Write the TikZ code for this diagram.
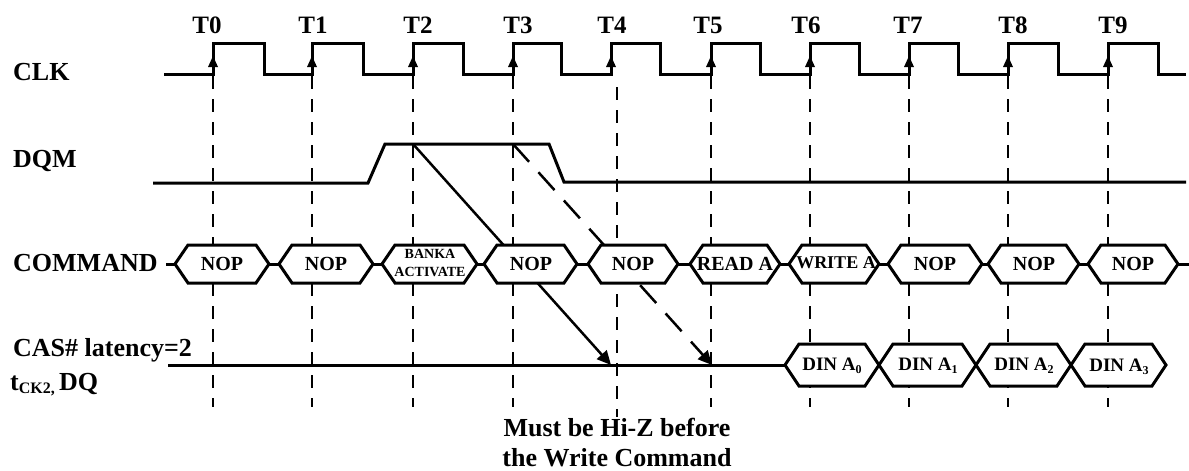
\documentclass[tikz,border=0pt]{standalone}
\usepackage{fontspec}
\setmainfont{Liberation Serif}
\usetikzlibrary{arrows.meta}
\tikzset{
  sig/.style={line width=3pt, line join=miter},
  gridline/.style={line width=1.8pt, dash pattern=on 13pt off 10pt},
  lbl/.style={font=\bfseries\fontsize{26}{28}\selectfont, anchor=west, inner sep=0pt},
  tlbl/.style={font=\bfseries\fontsize{25}{27}\selectfont, inner sep=0pt},
  cmd/.style={font=\bfseries\fontsize{20}{22}\selectfont, inner sep=0pt},
  small/.style={font=\bfseries\fontsize{14}{18}\selectfont, inner sep=0pt, align=center},
  din/.style={font=\bfseries\fontsize{19}{21}\selectfont, inner sep=0pt},
  hexs/.style={line width=3pt, fill=white, line join=miter},
  edgetip/.style={fill=black},
  diag/.style={line width=2.5pt, -{Triangle[length=14pt,width=13pt]}},
}
\newcommand\tdhex[5]{%
  \draw[hexs] (#1,#3) -- (#1+#5,#3-#4) -- (#2-#5,#3-#4) -- (#2,#3) -- (#2-#5,#3+#4) -- (#1+#5,#3+#4) -- cycle;}
\newcommand\dinsub[1]{\raisebox{-3pt}{\fontsize{12}{12}\selectfont #1}}
\begin{document}
\begin{tikzpicture}[x=1pt,y=-1pt]
\useasboundingbox (0,0) rectangle (1189,471);

% grid lines
\foreach \x in {213,312,413,513,711,810,909,1008,1108}
  \draw[gridline] (\x,76) -- (\x,407);
\draw[gridline] (617,87) -- (617,417);

% clock
\draw[sig] (164,74) -- (213,74) -- (213,43) -- (264,43) -- (264,74)
  -- (312,74) -- (312,43) -- (363,43) -- (363,74)
  -- (413,74) -- (413,43) -- (463,43) -- (463,74)
  -- (513,74) -- (513,43) -- (561,43) -- (561,74)
  -- (611,74) -- (611,43) -- (660,43) -- (660,74)
  -- (711,74) -- (711,43) -- (760,43) -- (760,74)
  -- (810,74) -- (810,43) -- (859,43) -- (859,74)
  -- (909,74) -- (909,43) -- (958,43) -- (958,74)
  -- (1008,74) -- (1008,43) -- (1058,43) -- (1058,74)
  -- (1108,74) -- (1108,43) -- (1158,43) -- (1158,74) -- (1186,74);
\foreach \x in {213,312,413,513,611,711,810,909,1008,1108}
  \fill[edgetip] (\x-5,67) -- (\x+5,67) -- (\x,56) -- cycle;

% T labels
\foreach \x/\t in {207/T0,313/T1,418/T2,518/T3,612/T4,708/T5,806/T6,908/T7,1013/T8,1113/T9}
  \node[tlbl] (lab\t) at (\x,25) {\t};

% DQM
\draw[sig] (153,183) -- (368,183) -- (385,144) -- (549,144) -- (564,182) -- (1186,182);

% diagonals
\coordinate (s1) at (413,144);
\coordinate (e1) at (611,365);
\coordinate (s2) at (513,144);
\coordinate (e2) at (712,365);
\draw[diag] (s1) -- (e1);
\draw[diag, dash pattern=on 24pt off 14pt] (s2) -- (e2);

% command row
\draw[sig] (166,264) -- (1189,264);
\tdhex{175}{269}{264}{19}{13}
\tdhex{279}{373}{264}{19}{13}
\tdhex{382}{477}{264}{19}{13}
\tdhex{484}{577}{264}{19}{13}
\tdhex{588}{678}{264}{19}{13}
\tdhex{690}{780}{264}{19}{13}
\tdhex{789}{879}{264}{19}{13}
\tdhex{888}{982}{264}{19}{13}
\tdhex{988}{1079}{264}{19}{13}
\tdhex{1088}{1178}{264}{19}{13}
\node[cmd] (c1) at (222,264) {NOP};
\node[cmd] (c2) at (326,264) {NOP};
\node[small] (c3) at (430,263) {BANKA\\ACTIVATE};
\node[cmd] (c4) at (531,264) {NOP};
\node[cmd] (c5) at (633,264) {NOP};
\node[cmd] (c6) at (735,264) {READ A};
\node[cmd,font=\bfseries\fontsize{18}{20}\selectfont] (c7) at (836,263) {WRITE A};
\node[cmd] (c8) at (935,264) {NOP};
\node[cmd] (c9) at (1034,264) {NOP};
\node[cmd] (c10) at (1133,264) {NOP};

% DQ row
\draw[sig] (168,365) -- (785,365);
\tdhex{785}{879}{365}{21}{14}
\tdhex{879}{976}{365}{21}{14}
\tdhex{976}{1071}{365}{21}{14}
\tdhex{1071}{1166}{365}{21}{14}
\node[din] (d0) at (832,366) {DIN A\dinsub{0}};
\node[din] (d1) at (928,366) {DIN A\dinsub{1}};
\node[din] (d2) at (1024,366) {DIN A\dinsub{2}};
\node[din] (d3) at (1119,367) {DIN A\dinsub{3}};

% left labels
\node[lbl] (clk) at (13,72) {CLK};
\node[lbl] (dqm) at (13,161) {DQM};
\node[lbl] (command) at (13,263) {COMMAND};
\node[lbl] (cas) at (13,350) {CAS\# latency=2};
\node[lbl] (dq) at (10,385) {t\raisebox{-3pt}{\fontsize{16}{16}\selectfont CK2,}\,DQ};

% bottom note
\node[font=\bfseries\fontsize{26}{30}\selectfont, align=center, inner sep=0pt] (note) at (617,443) {Must be Hi-Z before\\the Write Command};
\end{tikzpicture}
\end{document}
